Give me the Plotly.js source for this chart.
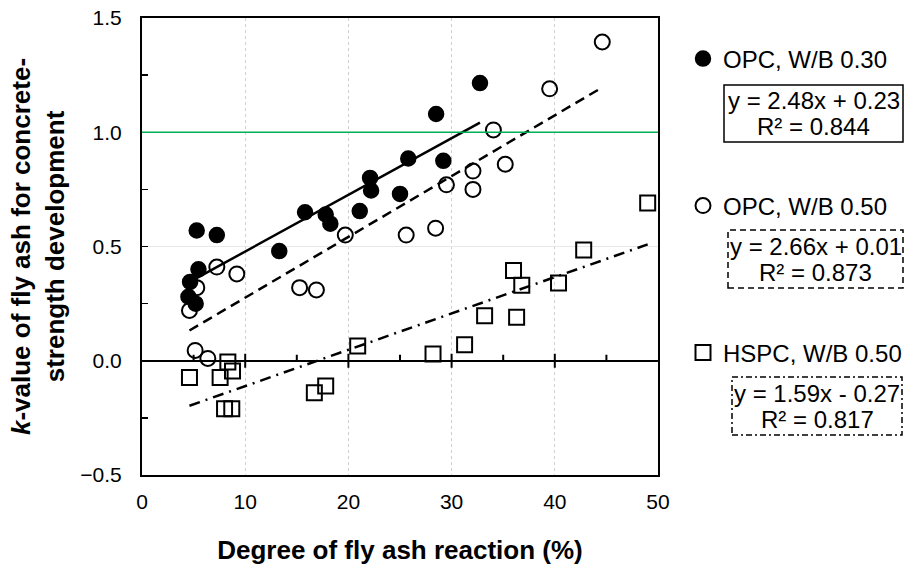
<!DOCTYPE html>
<html>
<head>
<meta charset="utf-8">
<script src="https://cdn.plot.ly/plotly-3.0.1.min.js"></script>
<style>html,body{margin:0;padding:0;background:#fff;}#chart{width:915px;height:568px;}</style>
</head>
<body>
<div id="chart"></div>
<script>
// ---- data ----
const opc30X = [4.5, 4.66, 5.2, 5.47, 5.3, 7.25, 13.3, 15.8, 17.8, 18.25, 21.1, 22.1, 22.2, 25.0, 25.8, 28.5, 29.2, 32.75];
const opc30Y = [0.28, 0.345, 0.25, 0.40, 0.57, 0.55, 0.48, 0.65, 0.64, 0.60, 0.655, 0.80, 0.745, 0.73, 0.885, 1.08, 0.875, 1.215];

const opc50X = [4.6, 5.15, 5.31, 6.38, 7.25, 9.19, 15.27, 16.9, 19.7, 25.6, 28.45, 29.5, 32.07, 32.07, 34.05, 35.2, 39.5, 44.6];
const opc50Y = [0.22, 0.045, 0.32, 0.01, 0.41, 0.38, 0.32, 0.31, 0.55, 0.55, 0.58, 0.77, 0.83, 0.75, 1.01, 0.86, 1.19, 1.395];

const hspcX = [4.6, 7.57, 8.0, 8.32, 8.7, 8.77, 16.7, 17.8, 20.9, 28.2, 31.26, 33.2, 36.0, 36.3, 36.8, 40.36, 42.8, 49.0];
const hspcY = [-0.073, -0.073, -0.21, -0.005, -0.21, -0.045, -0.14, -0.11, 0.065, 0.03, 0.07, 0.197, 0.395, 0.19, 0.33, 0.34, 0.485, 0.69];

const seriesNames = ['OPC, W/B 0.30', 'OPC, W/B 0.50', 'HSPC, W/B 0.50'];
const slopes = [2.48, 2.66, 1.59];
const intercepts = [0.23, 0.01, -0.27];
const r2 = ['0.844', '0.873', '0.817'];

const xTickVals = [0, 10, 20, 30, 40, 50];
const zeroMajorTicks = [10, 20, 30, 40];
const zeroMinorTicks = [5, 15, 25, 35, 45];
const refLine = 1.0;

// ---- build ----
const FONT = 'Liberation Sans, Arial, sans-serif';
const xs = [opc30X, opc50X, hspcX];
const ys = [opc30Y, opc50Y, hspcY];
const symbols = ['circle', 'circle-open', 'square-open'];
const sizes = [14.5, 15, 15];
const trendDash = ['solid', '10px,6px', '11px,6px,2px,6px'];
const legends = ['legend', 'legend2', 'legend3'];
const X_RANGE = [0, 50], Y_RANGE = [-0.5, 1.5];

const traces = [];
for (let i = 0; i < 3; i++) {
  const lo = Math.min(...xs[i]), hi = Math.max(...xs[i]);
  traces.push({
    x: [lo, hi],
    y: [slopes[i] * lo / 100 + intercepts[i], slopes[i] * hi / 100 + intercepts[i]],
    mode: 'lines', type: 'scatter', showlegend: false, hoverinfo: 'skip',
    line: {color: '#000', width: 2.5, dash: trendDash[i]}
  });
}
for (let i = 0; i < 3; i++) {
  traces.push({
    x: xs[i], y: ys[i], mode: 'markers', type: 'scatter', name: seriesNames[i],
    legend: legends[i],
    marker: {symbol: symbols[i], size: sizes[i], color: '#000', line: {color: '#000', width: 2}}
  });
}

// geometry (plot area in pixels: x 142..658, y 18..475 of a 915x568 page)
const W = 915, H = 568;
const L = 142, R = 658, T = 18, B = 475;
const px = v => (v - L) / (R - L);
const py = v => (B - v) / (B - T);
const zeroPaper = (0 - Y_RANGE[0]) / (Y_RANGE[1] - Y_RANGE[0]);
const pxToPaperY = p => p / (B - T);

const shapes = [];
shapes.push({type: 'line', xref: 'x', yref: 'y', x0: X_RANGE[0], x1: X_RANGE[1], y0: refLine, y1: refLine,
  line: {color: '#00b050', width: 1.6}, layer: 'above'});
zeroMajorTicks.forEach(t => shapes.push({type: 'line', xref: 'x', yref: 'paper',
  x0: t, x1: t, y0: zeroPaper - pxToPaperY(7), y1: zeroPaper + pxToPaperY(7), line: {color: '#000', width: 2}}));
zeroMinorTicks.forEach(t => shapes.push({type: 'line', xref: 'x', yref: 'paper',
  x0: t, x1: t, y0: zeroPaper, y1: zeroPaper + pxToPaperY(6), line: {color: '#000', width: 2}}));

const boxes = [
  {x0: 724, x1: 903, y0: 85, y1: 142, dash: 'solid'},
  {x0: 728, x1: 903, y0: 230, y1: 288, dash: '6px,4px'},
  {x0: 732, x1: 902, y0: 377, y1: 435, dash: '6px,3px,2px,3px'}
];
const annotations = [];
boxes.forEach((b, i) => {
  shapes.push({type: 'rect', xref: 'paper', yref: 'paper', x0: px(b.x0), x1: px(b.x1), y0: py(b.y1), y1: py(b.y0),
    line: {color: '#000', width: 1.5, dash: b.dash}, fillcolor: 'rgba(0,0,0,0)'});
  const cx = px((b.x0 + b.x1) / 2), cy = (b.y0 + b.y1) / 2;
  const ic = intercepts[i] >= 0 ? ' + ' + intercepts[i].toFixed(2) : ' - ' + Math.abs(intercepts[i]).toFixed(2);
  annotations.push({xref: 'paper', yref: 'paper', x: cx, y: py(cy - 13), xanchor: 'center', yanchor: 'middle',
    showarrow: false, text: 'y = ' + slopes[i].toFixed(2) + 'x' + ic, font: {family: FONT, size: 24, color: '#000'}});
  annotations.push({xref: 'paper', yref: 'paper', x: cx, y: py(cy + 13), xanchor: 'center', yanchor: 'middle',
    showarrow: false, text: 'R² = ' + r2[i], font: {family: FONT, size: 24, color: '#000'}});
});

const legendBase = {xref: 'container', yref: 'container', xanchor: 'left', yanchor: 'middle', bgcolor: 'rgba(0,0,0,0)',
  borderwidth: 0, font: {family: FONT, size: 24, color: '#000'}, itemwidth: 30};
const legendY = [59, 206, 353];
const legendX = 683;

const layout = {
  width: W, height: H,
  margin: {l: L, r: W - R, t: T, b: H - B, pad: 0},
  paper_bgcolor: '#fff', plot_bgcolor: '#fff',
  font: {family: FONT, color: '#000'},
  xaxis: {
    range: X_RANGE, tickvals: xTickVals, ticks: '', showline: true, mirror: true, linecolor: '#000', linewidth: 2,
    showgrid: true, gridcolor: '#cfcfcf', griddash: 'dot', gridwidth: 1, zeroline: false,
    tickfont: {family: FONT, size: 21, color: '#000'}, ticklabelstandoff: 7,
    title: {text: '<b>Degree of fly ash reaction (%)</b>', font: {family: FONT, size: 26, color: '#000'}, standoff: 29},
    automargin: false
  },
  yaxis: {
    range: Y_RANGE, dtick: 0.5, tick0: 0, tickformat: '.1f', ticks: 'inside', ticklen: 6, tickwidth: 1.5, tickcolor: '#000',
    minor: {dtick: 0.25, ticks: 'inside', ticklen: 6, tickwidth: 1.5, tickcolor: '#000', showgrid: false},
    showline: true, mirror: true, linecolor: '#000', linewidth: 2,
    showgrid: true, gridcolor: '#e8e8e8', gridwidth: 1,
    zeroline: true, zerolinecolor: '#000', zerolinewidth: 2,
    tickfont: {family: FONT, size: 21, color: '#000'}, ticklabelstandoff: 14,
    title: {text: '<b><i>k</i>-value of fly ash for concrete-<br>strength development</b>', font: {family: FONT, size: 26, color: '#000'}, standoff: 8},
    automargin: false
  },
  legend: Object.assign({}, legendBase, {x: legendX / W, y: 1 - legendY[0] / H}),
  legend2: Object.assign({}, legendBase, {x: legendX / W, y: 1 - legendY[1] / H}),
  legend3: Object.assign({}, legendBase, {x: legendX / W, y: 1 - legendY[2] / H}),
  shapes: shapes,
  annotations: annotations,
  showlegend: true
};

Plotly.newPlot('chart', traces, layout, {displayModeBar: false, staticPlot: true});
</script>
</body>
</html>
